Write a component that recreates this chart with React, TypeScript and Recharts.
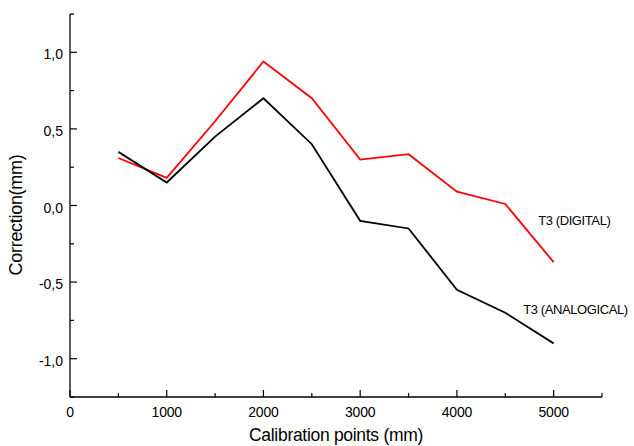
import React from "react";
import {
  LineChart,
  Line,
  XAxis,
  YAxis,
  ReferenceDot,
} from "recharts";

const calibrationPoints = [500, 1000, 1500, 2000, 2500, 3000, 3500, 4000, 4500, 5000];
const analogical = [0.35, 0.15, 0.45, 0.7, 0.4, -0.1, -0.15, -0.55, -0.7, -0.9];
const digital = [0.31, 0.18, 0.55, 0.94, 0.7, 0.3, 0.335, 0.09, 0.01, -0.37];

const xTicks = [0, 500, 1000, 1500, 2000, 2500, 3000, 3500, 4000, 4500, 5000, 5500];
const yTicks = [-1.25, -1, -0.75, -0.5, -0.25, 0, 0.25, 0.5, 0.75, 1, 1.25];

const FONT = '"Liberation Sans", Arial, sans-serif';

const data = calibrationPoints.map((x, i) => ({
  x,
  analogical: analogical[i],
  digital: digital[i],
}));

// ticks point inward, labels only on the major ones
function XTick({ x, y, payload }: any) {
  const v = payload.value;
  const major = v % 1000 === 0;
  return (
    <g>
      <line x1={x} x2={x} y1={y} y2={y - (major ? 7 : 4)} stroke="#000" strokeWidth={1.2} />
      {major && (
        <text x={x} y={y + 20} textAnchor="middle" fontSize={14} fontFamily={FONT} letterSpacing={-0.2} fill="#000">
          {v}
        </text>
      )}
    </g>
  );
}

function YTick({ x, y, payload }: any) {
  const v = payload.value;
  const major = Math.abs(v * 2 - Math.round(v * 2)) < 1e-9;
  return (
    <g>
      <line x1={x} x2={x + (major ? 7 : 4)} y1={y} y2={y} stroke="#000" strokeWidth={1.2} />
      {major && (
        <text x={x - 7} y={y + 7} textAnchor="end" fontSize={14} fontFamily={FONT} fill="#000">
          {v.toFixed(1).replace(".", ",")}
        </text>
      )}
    </g>
  );
}

export default function App() {
  return (
    <div style={{ position: "absolute", left: 0, top: 0, background: "#fff" }}>
      <LineChart
        width={634}
        height={446}
        data={data}
        margin={{ top: 14, right: 32, left: 10, bottom: 19 }}
      >
        <XAxis
          dataKey="x"
          type="number"
          domain={[0, 5500]}
          ticks={xTicks}
          interval={0}
          height={30}
          tickSize={0}
          tickMargin={0}
          tickLine={false}
          tick={<XTick />}
          axisLine={{ stroke: "#000", strokeWidth: 1.3 }}
          label={{
            content: () => (
              <text x={336} y={441} textAnchor="middle" fontSize={17.5} fontFamily={FONT} letterSpacing={-0.3} fill="#000">
                Calibration points (mm)
              </text>
            ),
          }}
        />
        <YAxis
          type="number"
          domain={[-1.25, 1.25]}
          ticks={yTicks}
          interval={0}
          width={60}
          tickSize={0}
          tickMargin={0}
          tickLine={false}
          tick={<YTick />}
          axisLine={{ stroke: "#000", strokeWidth: 1.3 }}
          label={{
            content: () => (
              <text
                x={22}
                y={215}
                transform="rotate(-90 22 215)"
                textAnchor="middle"
                fontSize={18}
                fontFamily={FONT}
                letterSpacing={-0.3}
                fill="#000"
              >
                Correction(mm)
              </text>
            ),
          }}
        />
        <Line
          dataKey="digital"
          stroke="#ff0000"
          strokeWidth={1.8}
          dot={false}
          isAnimationActive={false}
        />
        <Line
          dataKey="analogical"
          stroke="#000"
          strokeWidth={1.8}
          dot={false}
          isAnimationActive={false}
        />
        <ReferenceDot
          x={4840}
          y={-0.094}
          r={0}
          stroke="none"
          fill="none"
          label={{ value: "T3 (DIGITAL)", position: "right", offset: 0, fontSize: 13, fontFamily: FONT, fill: "#000", letterSpacing: -0.4 }}
        />
        <ReferenceDot
          x={4685}
          y={-0.68}
          r={0}
          stroke="none"
          fill="none"
          label={{ value: "T3 (ANALOGICAL)", position: "right", offset: 0, fontSize: 13, fontFamily: FONT, fill: "#000", letterSpacing: -0.4 }}
        />
      </LineChart>
    </div>
  );
}
